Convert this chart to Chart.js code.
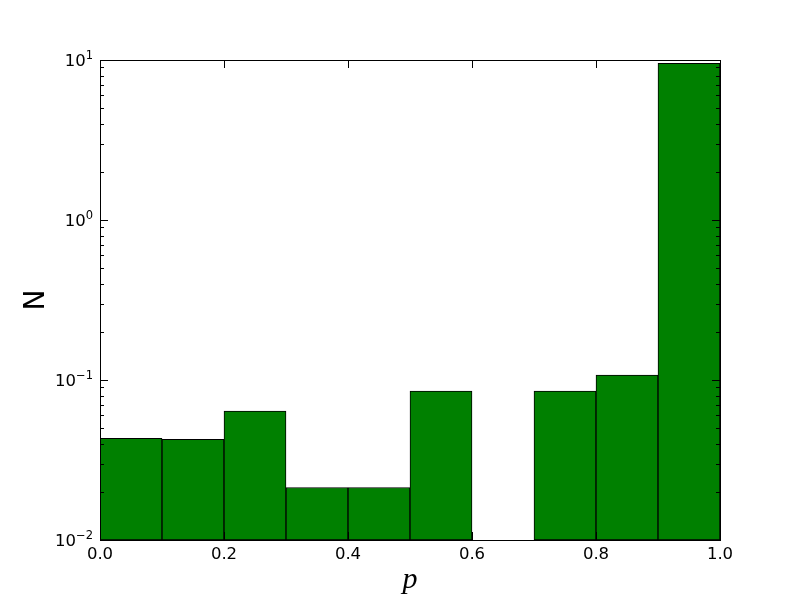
<!DOCTYPE html>
<html>
<head>
<meta charset="utf-8">
<script src="https://cdn.jsdelivr.net/npm/chart.js@4.4.1/dist/chart.umd.min.js"></script>
<style>
	html, body { margin: 0; padding: 0; background: #ffffff; }
	#wrap { width: 800px; height: 600px; }
</style>
</head>
<body>
<div id="wrap"><canvas id="hist" width="800" height="600"></canvas></div>
<script>
// histogram bins (left edges) and counts
const binEdges = [0.0, 0.1, 0.2, 0.3, 0.4, 0.5, 0.6, 0.7, 0.8, 0.9, 1.0];
const binCounts = [0.0432, 0.0426, 0.064, 0.0213, 0.0213, 0.0853, 0, 0.0853, 0.1075, 9.53];

const xTicks = [0.0, 0.2, 0.4, 0.6, 0.8, 1.0];
const yDecades = [-2, -1, 0, 1];

const tickFont = "16.5px 'DejaVu Sans'";
const supFont = "11.5px 'DejaVu Sans'";

// matplotlib-like frame: inward ticks, superscript log labels, axis titles
const framePlugin = {
	id: "frame",
	afterDatasetsDraw(chart) {
		const { ctx, chartArea: a, scales } = chart;
		const x = scales.x;
		const y = scales.y;
		ctx.save();
		ctx.strokeStyle = "#000";
		ctx.lineWidth = 1;
		ctx.strokeRect(Math.round(a.left) + 0.5, Math.round(a.top) + 0.5, Math.round(a.right - a.left), Math.round(a.bottom - a.top));

		ctx.beginPath();
		// x ticks bottom and top
		xTicks.forEach((v) => {
			const px = Math.round(x.getPixelForValue(v)) + 0.5;
			ctx.moveTo(px, a.bottom);
			ctx.lineTo(px, a.bottom - 8);
			ctx.moveTo(px, a.top);
			ctx.lineTo(px, a.top + 8);
		});
		// y ticks major and minor, left and right
		yDecades.forEach((d) => {
			for (let m = 1; m <= 9; m++) {
				if (d === 1 && m > 1) break;
				const v = m * Math.pow(10, d);
				const py = Math.round(y.getPixelForValue(v)) + 0.5;
				const len = m === 1 ? 8 : 4;
				ctx.moveTo(a.left, py);
				ctx.lineTo(a.left + len, py);
				ctx.moveTo(a.right, py);
				ctx.lineTo(a.right - len, py);
			}
		});
		ctx.stroke();

		ctx.fillStyle = "#000";
		ctx.font = tickFont;
		ctx.textAlign = "center";
		ctx.textBaseline = "top";
		xTicks.forEach((v) => {
			ctx.fillText(v.toFixed(1), x.getPixelForValue(v), a.bottom + 6);
		});

		yDecades.forEach((d) => {
			const py = y.getPixelForValue(Math.pow(10, d));
			const exp = d < 0 ? "\u2212" + Math.abs(d) : String(d);
			ctx.font = supFont;
			const ew = ctx.measureText(exp).width;
			ctx.textAlign = "left";
			ctx.textBaseline = "alphabetic";
			const right = a.left - 7;
			ctx.fillText(exp, right - ew, py - 1);
			ctx.font = tickFont;
			const bw = ctx.measureText("10").width;
			ctx.fillText("10", right - ew - bw, py + 6);
		});

		ctx.font = "28px 'DejaVu Sans'";
		ctx.textAlign = "center";
		ctx.textBaseline = "middle";
		ctx.save();
		ctx.translate(37, (a.top + a.bottom) / 2);
		ctx.rotate(-Math.PI / 2);
		ctx.fillText("N", 0, 0);
		ctx.restore();

		ctx.font = "italic 30px 'Liberation Serif'";
		ctx.textBaseline = "alphabetic";
		ctx.fillText("p", (a.left + a.right) / 2, 588);
		ctx.restore();
	}
};

const points = binCounts.map((c, i) => ({
	x: (binEdges[i] + binEdges[i + 1]) / 2,
	y: c > 0 ? c : null
}));

new Chart(document.getElementById("hist"), {
	type: "bar",
	data: {
		datasets: [{
			data: points,
			backgroundColor: "#008000",
			borderColor: "#000000",
			borderWidth: 1,
			borderSkipped: false,
			barPercentage: 1,
			categoryPercentage: 1
		}]
	},
	options: {
		responsive: false,
		animation: false,
		layout: { padding: { left: 100, right: 80, top: 60, bottom: 60 } },
		plugins: { legend: { display: false }, tooltip: { enabled: false } },
		scales: {
			x: { type: "linear", min: 0, max: 1, display: false, offset: false },
			y: { type: "logarithmic", min: 0.01, max: 10, display: false }
		}
	},
	plugins: [framePlugin]
});
</script>
</body>
</html>
